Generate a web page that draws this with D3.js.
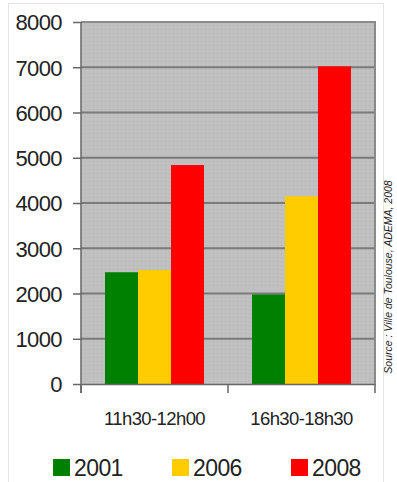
<!DOCTYPE html>
<html>
<head>
<meta charset="utf-8">
<script src="https://cdn.jsdelivr.net/npm/d3@7"></script>
<style>
  html, body { margin: 0; padding: 0; background: #fff; }
  svg { display: block; }
  text { font-family: "Liberation Sans", Arial, sans-serif; fill: #222; }
</style>
</head>
<body>
<svg id="chart" width="397" height="482"></svg>
<script>
// Passages counted per time slot and year
const categories = ["11h30-12h00", "16h30-18h30"];
const years = ["2001", "2006", "2008"];
const values2001 = [2470, 1980];
const values2006 = [2520, 4150];
const values2008 = [4840, 7020];
const yTicks = [0, 1000, 2000, 3000, 4000, 5000, 6000, 7000, 8000];
const colors = ["#008000", "#ffcc00", "#ff0000"];
const sourceText = "Source : Ville de Toulouse, ADEMA, 2008";

const series = [values2001, values2006, values2008];

const svg = d3.select("#chart");
const plot = { left: 81, top: 22, right: 375, bottom: 384 };

// outer frame
svg.append("rect")
  .attr("x", 8.5).attr("y", 3.5)
  .attr("width", 375).attr("height", 490)
  .attr("fill", "none").attr("stroke", "#e4e4e4").attr("stroke-width", 1);

const x0 = d3.scaleBand().domain(categories).range([plot.left, plot.right]).paddingInner(0).paddingOuter(0);
const x1 = d3.scaleBand().domain(years).range([0, x0.bandwidth()]).paddingInner(0).paddingOuter(0.727);
const y = d3.scaleLinear().domain([0, 8000]).range([plot.bottom, plot.top]);

// dotted plot background
const defs = svg.append("defs");
const pat = defs.append("pattern").attr("id", "dots")
  .attr("patternUnits", "userSpaceOnUse").attr("width", 4).attr("height", 4);
pat.append("rect").attr("width", 4).attr("height", 4).attr("fill", "#c0c0c0");
pat.append("rect").attr("x", 1).attr("y", 1).attr("width", 1).attr("height", 1).attr("fill", "#b4b4b4");

svg.append("rect")
  .attr("x", plot.left).attr("y", plot.top)
  .attr("width", plot.right - plot.left).attr("height", plot.bottom - plot.top)
  .attr("fill", "url(#dots)");

// horizontal gridlines
svg.append("g")
  .selectAll("line")
  .data(yTicks.filter(t => t > 0 && t < 8000))
  .join("line")
  .attr("x1", plot.left).attr("x2", plot.right)
  .attr("y1", d => y(d)).attr("y2", d => y(d))
  .attr("stroke", "#7a7a7a").attr("stroke-width", 2);

// plot border (top and right)
svg.append("path")
  .attr("d", `M${plot.left},${plot.top}H${plot.right}V${plot.bottom}`)
  .attr("fill", "none").attr("stroke", "#8a8a8a").attr("stroke-width", 2);

// bars
const groups = svg.append("g").selectAll("g")
  .data(categories)
  .join("g")
  .attr("transform", d => `translate(${x0(d)},0)`);

groups.selectAll("rect")
  .data((c, i) => years.map((yr, k) => ({ yr, v: series[k][i], color: colors[k] })))
  .join("rect")
  .attr("x", d => x1(d.yr))
  .attr("width", x1.bandwidth())
  .attr("y", d => y(d.v))
  .attr("height", d => y(0) - y(d.v))
  .attr("fill", d => d.color);

// y axis
const yAxis = d3.axisLeft(y).tickValues(yTicks).tickSize(8).tickPadding(11).tickFormat(d3.format("d"));
const gy = svg.append("g").attr("transform", `translate(${plot.left},0)`).call(yAxis);
gy.select(".domain").attr("stroke", "#666").attr("stroke-width", 1.5)
  .attr("d", `M0,${plot.top}V${plot.bottom + 9}`);
gy.selectAll(".tick line").attr("stroke", "#666").attr("stroke-width", 1.5);
gy.selectAll(".tick text")
  .style("font-size", "22px").style("letter-spacing", "-0.6px")
  .attr("fill", "#2a2a2a").attr("dy", "0.36em");

// x axis
const xAxis = d3.axisBottom(x0).tickSize(0).tickPadding(28);
const gx = svg.append("g").attr("transform", `translate(0,${plot.bottom})`).call(xAxis);
gx.select(".domain").attr("stroke", "#666").attr("stroke-width", 1.5);
gx.selectAll(".tick text")
  .style("font-size", "18.5px").style("letter-spacing", "-0.6px").attr("fill", "#2a2a2a");
// category separators
gx.append("g").selectAll("line")
  .data([plot.left, plot.left + x0.bandwidth(), plot.right])
  .join("line")
  .attr("x1", d => d).attr("x2", d => d)
  .attr("y1", 0).attr("y2", 9)
  .attr("stroke", "#666").attr("stroke-width", 1.5);

// legend
const legendX = [53, 172, 291];
const legend = svg.append("g").selectAll("g")
  .data(years)
  .join("g")
  .attr("transform", (d, i) => `translate(${legendX[i]},459)`);
legend.append("rect").attr("width", 17).attr("height", 17).attr("fill", (d, i) => colors[i]);
legend.append("text")
  .attr("x", 21).attr("y", 16.5)
  .style("font-size", "23px").style("letter-spacing", "-0.6px")
  .attr("fill", "#2a2a2a")
  .text(d => d);

// source note
svg.append("text")
  .attr("transform", `translate(392,277) rotate(-90)`)
  .attr("text-anchor", "middle")
  .style("font-size", "10.5px").style("font-style", "italic")
  .attr("fill", "#555")
  .text(sourceText);
</script>
</body>
</html>
